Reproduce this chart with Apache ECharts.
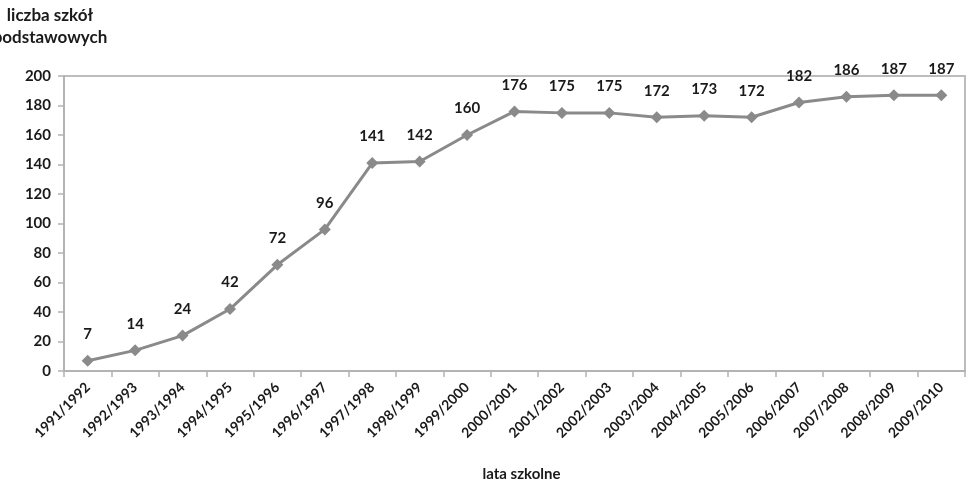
<!DOCTYPE html>
<html>
<head>
<meta charset="utf-8">
<script src="https://cdn.jsdelivr.net/npm/echarts@6/dist/echarts.min.js"></script>
<style>
  html, body { margin: 0; padding: 0; background: #fff; }
  #chart { width: 966px; height: 487px; }
</style>
</head>
<body>
<div id="chart"></div>
<script>
// School years and number of primary schools
const years = ['1991/1992','1992/1993','1993/1994','1994/1995','1995/1996','1996/1997','1997/1998','1998/1999','1999/2000','2000/2001','2001/2002','2002/2003','2003/2004','2004/2005','2005/2006','2006/2007','2007/2008','2008/2009','2009/2010'];
const schools = [7, 14, 24, 42, 72, 96, 141, 142, 160, 176, 175, 175, 172, 173, 172, 182, 186, 187, 187];
const yTicks = { min: 0, max: 200, interval: 20 };

const FONT = 'Lato, "Open Sans", sans-serif';
const chart = echarts.init(document.getElementById('chart'));
chart.setOption({
  animation: false,
  backgroundColor: '#fff',
  graphic: [{
    type: 'text',
    x: 50, y: 5,
    style: {
      text: 'liczba szkół\npodstawowych',
      align: 'center',
      verticalAlign: 'top',
      font: 'bold 17px ' + FONT,
      lineHeight: 22,
      fill: '#1a1a1a'
    }
  }],
  grid: {
    left: 64, right: 1, top: 76, bottom: 115,
    show: true, borderColor: '#bdbdbd', borderWidth: 2
  },
  xAxis: {
    type: 'category',
    data: years,
    boundaryGap: true,
    name: 'lata szkolne',
    nameLocation: 'middle',
    nameGap: 96,
    nameTextStyle: { fontFamily: FONT, fontWeight: 'bold', fontSize: 15, color: '#1a1a1a', padding: [0, 0, 0, 14] },
    axisLine: { lineStyle: { color: '#b3b3b3', width: 2 } },
    axisTick: { show: true, alignWithLabel: false, length: 6, lineStyle: { color: '#b3b3b3', width: 1.5 } },
    axisLabel: {
      rotate: 45, interval: 0, margin: 14,
      fontFamily: FONT, fontWeight: 'bold', fontSize: 14, color: '#1a1a1a'
    }
  },
  yAxis: {
    type: 'value',
    min: yTicks.min, max: yTicks.max, interval: yTicks.interval,
    splitLine: { show: false },
    axisLine: { show: true, lineStyle: { color: '#b3b3b3', width: 2 } },
    axisTick: { show: true, length: 6, lineStyle: { color: '#b3b3b3', width: 1.5 } },
    axisLabel: { margin: 13, fontFamily: FONT, fontWeight: 'bold', fontSize: 15, color: '#1a1a1a' }
  },
  series: [{
    type: 'line',
    data: schools,
    symbol: 'diamond',
    symbolSize: 12,
    itemStyle: { color: '#8a8a8a' },
    lineStyle: { color: '#8a8a8a', width: 3 },
    label: {
      show: true, position: 'top', distance: 13,
      fontFamily: FONT, fontWeight: 'bold', fontSize: 15, color: '#1a1a1a'
    }
  }]
});
</script>
</body>
</html>
